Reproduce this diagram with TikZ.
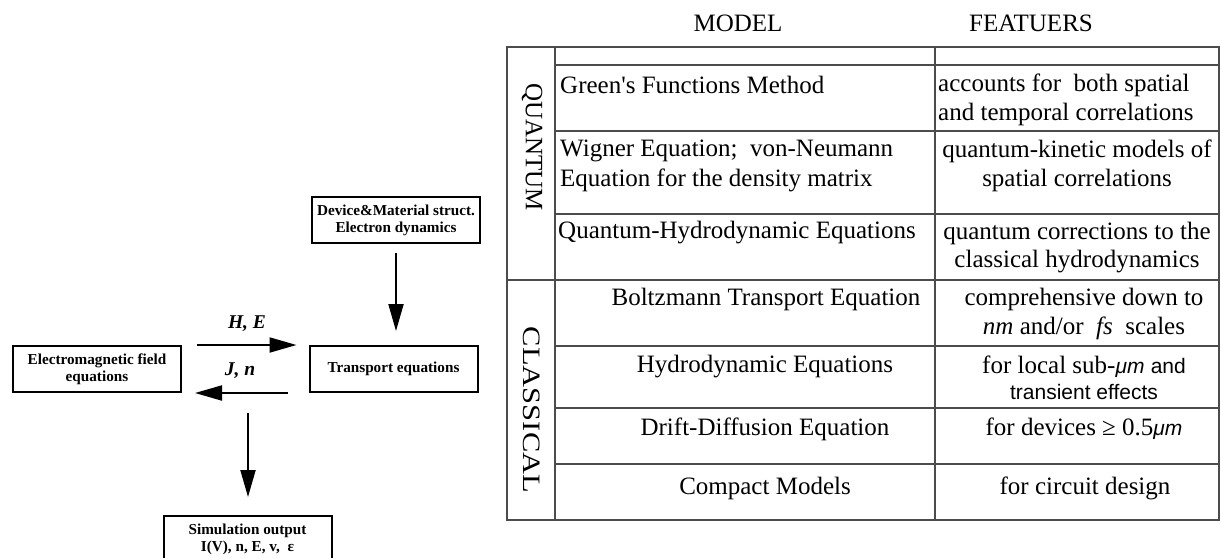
\documentclass[tikz,border=0pt]{standalone}
\usepackage{fontspec}
\setmainfont{Liberation Serif}
\newfontfamily\sansf{Liberation Sans}
\newfontfamily\qfont[Ligatures=TeXOff]{Liberation Serif}
\newfontfamily\wideserif[FakeStretch=1.22]{Liberation Serif}
\usetikzlibrary{arrows.meta}
\newcommand{\sq}{{\qfont'}}
\newcommand{\smu}{{\sansf\itshape\fontsize{21}{24}\selectfont μm}}
\begin{document}
\begin{tikzpicture}[x=1pt,y=-1pt,
  fbox/.style={draw, line width=2pt, minimum width=168pt, minimum height=46pt, inner sep=0pt, align=center, font=\bfseries\fontsize{15.2}{17}\selectfont},
  arr/.style={line width=2pt, -{Triangle[length=27pt,width=15pt]}},
  lbl/.style={font=\bfseries\itshape\fontsize{19.5}{21}\selectfont},
  tline/.style={draw=black!70, line width=1.2pt},
  tt/.style={font=\fontsize{25}{28}\selectfont, inner sep=0pt},
  ts/.style={font=\sansf\fontsize{21}{24}\selectfont, inner sep=0pt},
]
\useasboundingbox (0,0) rectangle (1222,557);
% ---------- left flow diagram ----------
\node[fbox] (dev) at (396,220) {Device\&Material struct.\\Electron dynamics};
\node[fbox] (em) at (97,369) {Electromagnetic field\\equations};
\node[fbox] (tr) at (393.5,369) {Transport equations};
\node[fbox] (sim) at (247.5,539) {Simulation output\\I(V), n, E, v, \ ε};
\draw[arr, shorten <=9pt, shorten >=14pt] (dev.south) -- (dev.south |- tr.north);
\draw[arr, shorten <=15pt, shorten >=12pt] (em.north east) -- (tr.north west);
\draw[arr, shorten <=21pt, shorten >=13pt] (tr.south west) -- (em.south east);
\coordinate (split) at (248,413);
\draw[arr, shorten >=18pt] (split) -- (split |- sim.north);
\node[lbl] (he) at (247,324) {H, E};
\node[lbl] (jn) at (240,371) {J, n};
% ---------- table ----------
\draw[tline] (507,47) rectangle (1219,520);
\draw[tline] (555,47) -- (555,520);
\draw[tline] (935,47) -- (935,520);
\draw[tline] (507,280) -- (1219,280);
\foreach \yy in {65,131,214,346,408,464} \draw[tline] (555,\yy) -- (1219,\yy);
\node[tt] (hm) at (738,23) {MODEL};
\node[tt] (hf) at (1031,23) {FEATUERS};
\node[tt, rotate=-90] (q) at (532,147) {QUANTUM};
\node[tt, rotate=-90, font=\wideserif\fontsize{25}{28}\selectfont] (c) at (532,410) {CLASSICAL};
% quantum rows
\node[tt, anchor=west] (m1) at (560,85) {Green\sq s Functions Method};
\node[tt, anchor=west] (m2a) at (560,151) {Wigner Equation;\ \ von-Neumann};
\node[tt, anchor=west] (m2b) at (560,180) {Equation for the density matrix};
\node[tt, anchor=west] (m3) at (558,233) {Quantum-Hydrodynamic Equations};
\node[tt, anchor=west] (f1a) at (938,85) {accounts for\ \ both spatial};
\node[tt, anchor=west] (f1b) at (938,114) {and temporal correlations};
\node[tt] (f2a) at (1077,151) {quantum-kinetic models of};
\node[tt] (f2b) at (1077,180) {spatial correlations};
\node[tt] (f3a) at (1077,233) {quantum corrections to the};
\node[tt] (f3b) at (1077,262) {classical hydrodynamics};
% classical rows
\node[tt] (m4) at (766,299) {Boltzmann Transport Equation};
\node[tt] (m5) at (765,367) {Hydrodynamic Equations};
\node[tt] (m6) at (765,429) {Drift-Diffusion Equation};
\node[tt] (m7) at (765,488) {Compact Models};
\node[tt] (f4a) at (1084,299) {comprehensive down to};
\node[tt] (f4b) at (1084,328) {\textit{nm} and/or\ \ \textit{fs}\ \ scales};
\node[tt] (f5a) at (1084,367) {for local sub-\smu{} {\sansf\fontsize{21}{24}\selectfont and}};
\node[ts] (f5b) at (1084,392) {transient effects};
\node[tt] (f6) at (1084,429) {for devices ≥ 0.5\smu};
\node[tt] (f7) at (1085,488) {for circuit design};
\end{tikzpicture}
\end{document}
